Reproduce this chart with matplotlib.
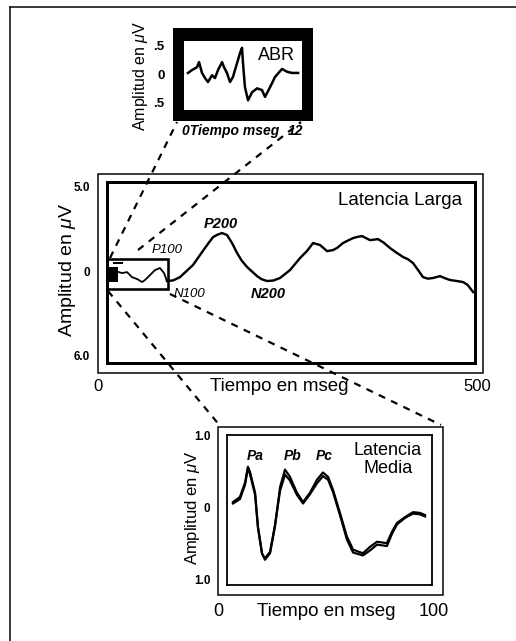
import matplotlib
matplotlib.use("Agg")
import matplotlib.pyplot as plt
from matplotlib.patches import Rectangle

W, H = 516, 641
plt.rcParams['font.family'] = ['Liberation Sans', 'DejaVu Sans']
plt.rcParams['mathtext.fontset'] = 'custom'
plt.rcParams['mathtext.it'] = 'Liberation Sans:italic'
plt.rcParams['mathtext.rm'] = 'Liberation Sans'

# ---- Long-latency response (0-500 ms) ----
llr_t = [81.5, 90.0, 99.2, 108.0, 116.9, 129.1, 137.0, 144.1, 150.0, 156.3, 163.1,
         170.0, 176.7, 183.0, 190.3, 203.9, 210.0, 217.5, 226.0, 235.1, 248.7,
         262.3, 272.0, 280.0, 289.5, 299.0, 307.1, 313.0, 320.7, 328.0, 334.3,
         340.0, 346.5, 357.4, 368.3, 376.0, 384.6, 393.0, 402.3, 409.0, 415.9,
         422.0, 429.4, 436.0, 443.0, 452.5, 459.0, 466.1, 474.0, 483.8, 490.0, 497.4]
llr_v = [-0.59, -0.55, -0.36, 0.00, 0.36, 1.12, 1.60, 2.01, 2.15, 2.25, 2.13,
         1.65, 1.07, 0.62, 0.24, -0.30, -0.48, -0.59, -0.56, -0.41, 0.06,
         0.77, 1.20, 1.66, 1.54, 1.18, 1.24, 1.38, 1.66, 1.82, 1.95,
         2.02, 2.07, 1.83, 1.89, 1.68, 1.36, 1.10, 0.83, 0.70, 0.47,
         0.10, -0.36, -0.45, -0.41, -0.30, -0.42, -0.53, -0.58, -0.65, -0.82, -1.24]
# miniature of the early part shown inside the zoom box
mini_t = [15.0, 20.4, 27.2, 34.0, 40.8, 47.6, 51.6, 58.4, 65.2, 72.0, 77.5, 81.5]
mini_v = [-0.05, -0.12, -0.06, -0.36, -0.47, -0.65, -0.53, -0.24, 0.06, 0.18, -0.12, -0.59]
llr_yticks = [5.0, 0.0, -5.0]
llr_yticklabels = ["5.0", "0", "6.0"]
llr_xticks = [0, 500]
llr_xticklabels = ["0", "500"]

# ---- Auditory brainstem response (0-12 ms) ----
abr_t = [0.41, 0.81, 1.32, 1.53, 1.83, 2.14, 2.44, 2.85, 3.15, 3.46, 3.87, 4.07,
         4.37, 4.68, 4.98, 5.39, 5.70, 5.90, 6.00, 6.20, 6.51, 6.92, 7.43, 7.93,
         8.24, 8.75, 9.26, 9.97, 10.48, 10.99, 11.60]
abr_v = [0.02, 0.07, 0.12, 0.21, 0.02, -0.07, -0.14, -0.02, -0.07, 0.07, 0.21, 0.12,
         0.02, -0.14, -0.05, 0.19, 0.37, 0.46, 0.19, -0.23, -0.46, -0.32, -0.25, -0.28,
         -0.40, -0.23, -0.05, 0.09, 0.04, 0.02, 0.02]
abr_yticks = [0.5, 0.0, -0.5]
abr_yticklabels = [".5", "0", ".5"]

# ---- Middle-latency response (0-100 ms), two superimposed traces ----
mlr_t = [2.9, 6.3, 8.8, 10.2, 11.2, 13.7, 15.1, 17.1, 18.5, 21.0, 23.4, 25.9,
         28.3, 30.7, 34.1, 37.1, 40.5, 43.9, 46.8, 49.3, 51.7, 55.1, 58.5, 61.5,
         66.3, 69.8, 73.2, 78.0, 80.5, 82.9, 86.8, 90.7, 94.1, 96.6]
mlr_a = [0.08, 0.15, 0.35, 0.57, 0.50, 0.21, -0.26, -0.63, -0.72, -0.63, -0.26, 0.29,
         0.53, 0.43, 0.21, 0.08, 0.21, 0.39, 0.49, 0.43, 0.25, -0.07, -0.40, -0.58,
         -0.63, -0.54, -0.47, -0.49, -0.33, -0.21, -0.13, -0.06, -0.07, -0.10]
mlr_b = [0.06, 0.12, 0.32, 0.55, 0.47, 0.18, -0.28, -0.64, -0.70, -0.61, -0.24, 0.24,
         0.46, 0.38, 0.18, 0.06, 0.19, 0.34, 0.44, 0.39, 0.22, -0.10, -0.44, -0.62,
         -0.66, -0.59, -0.51, -0.53, -0.36, -0.23, -0.14, -0.08, -0.09, -0.12]
mlr_yticks = [1.0, 0.0, -1.0]
mlr_yticklabels = ["1.0", "0", "1.0"]
mlr_xticks = [0, 100]
mlr_xticklabels = ["0", "100"]

YLABEL = r"Amplitud en $\mu$V"


def px(v):
    """pixels -> points at 100 dpi"""
    return v * 0.72


def box(x0, y0, x1, y1):
    return [x0 / W, 1 - y1 / H, (x1 - x0) / W, (y1 - y0) / H]


fig = plt.figure(figsize=(W / 100, H / 100), dpi=100)
fig.patch.set_facecolor("white")

# full-figure drawing layer in pixel units (y downwards)
cv = fig.add_axes([0, 0, 1, 1])
cv.set_xlim(0, W)
cv.set_ylim(H, 0)
cv.axis("off")

# page border (top and left edges)
cv.plot([10, W], [7, 7], color="black", lw=px(1.5))
cv.plot([10, 10], [7, H], color="black", lw=px(1.5))

# thin outer frames
cv.add_patch(Rectangle((98, 174), 385, 199, fill=False, ec="black", lw=px(1.5)))
cv.add_patch(Rectangle((218, 427), 225, 168, fill=False, ec="black", lw=px(1.5)))
# heavy ABR frame
cv.add_patch(Rectangle((173, 28), 140, 93, fc="black", ec="black", lw=0))

# dashed zoom guides
dash = dict(color="black", lw=px(2.2), linestyle=(0, (3.2, 3.0)), solid_capstyle="butt")
cv.plot([110, 177], [258, 122], **dash)
cv.plot([138, 301], [250, 122], **dash)
cv.plot([108, 221], [291, 427], **dash)
cv.plot([170, 441], [294, 425], **dash)

# ---------- long latency panel ----------
ax = fig.add_axes(box(107, 182, 475, 363))
ax.set_facecolor("none")
ax.set_xlim(0, 500)
ax.set_ylim(-5.44, 5.27)
for s in ax.spines.values():
    s.set_linewidth(px(3))
ax.plot(llr_t, llr_v, color="black", lw=px(2.4), solid_joinstyle="round")
ax.add_patch(Rectangle((0, -1.07), 83, 1.78, fill=False, ec="black", lw=px(2.6)))
ax.add_patch(Rectangle((0, -0.65), 15, 0.89, fc="black", ec="none"))
ax.plot(mini_t, mini_v, color="black", lw=px(1.8))
ax.plot([10, 20], [0.45, 0.45], color="black", lw=px(2))
ax.set_yticks(llr_yticks)
ax.set_yticklabels(llr_yticklabels, fontweight="bold", fontsize=8.5)
ax.set_xticks([])
ax.tick_params(axis="y", length=0, pad=12)
for v, lab, dx in zip(llr_xticks, llr_xticklabels, [-9, 2]):
    ax.annotate(lab, xy=(v, 0), xycoords=("data", "axes fraction"),
                xytext=(dx, -28), textcoords="offset pixels",
                ha="center", va="baseline", fontsize=12)

cv.text(67, 270, YLABEL, rotation=90, ha="center", va="center", fontsize=14)
cv.text(279, 391, "Tiempo en mseg", ha="center", va="baseline", fontsize=13.5)
cv.text(400, 205, "Latencia Larga", ha="center", va="baseline", fontsize=13.5)
cv.text(221, 228, "P200", ha="center", va="baseline", fontsize=10.5,
        fontweight="bold", fontstyle="italic")
cv.text(268, 298, "N200", ha="center", va="baseline", fontsize=10.5,
        fontweight="bold", fontstyle="italic")
cv.text(167, 253, "P100", ha="center", va="baseline", fontsize=9.5, fontstyle="italic")
cv.text(189, 297, "N100", ha="center", va="baseline", fontsize=9.5, fontstyle="italic")

# ---------- ABR panel ----------
ab = fig.add_axes(box(184, 41, 302, 110))
ab.set_facecolor("white")
ab.set_xlim(0, 12)
ab.set_ylim(-0.63, 0.58)
for s in ab.spines.values():
    s.set_visible(False)
ab.plot(abr_t, abr_v, color="black", lw=px(2.5), solid_joinstyle="round")
ab.set_yticks(abr_yticks)
ab.set_yticklabels(abr_yticklabels, fontweight="bold", fontsize=9.5)
ab.set_xticks([])
ab.tick_params(axis="y", length=0, pad=14)
ab.text(0.78, 0.72, "ABR", transform=ab.transAxes, ha="center", va="baseline", fontsize=13)

cv.text(140, 76, YLABEL, rotation=90, ha="center", va="center", fontsize=11.5)
cv.text(182, 135, "0Tiempo mseg", ha="left", va="baseline", fontsize=10,
        fontweight="bold", fontstyle="italic")
cv.text(296, 135, "12", ha="center", va="baseline", fontsize=10,
        fontweight="bold", fontstyle="italic")

# ---------- middle latency panel ----------
am = fig.add_axes(box(227, 435, 432, 585))
am.set_facecolor("none")
am.set_xlim(0, 100)
am.set_ylim(-1.07, 1.01)
for s in am.spines.values():
    s.set_linewidth(px(1.8))
am.plot(mlr_t, mlr_a, color="black", lw=px(2.2), solid_joinstyle="round")
am.plot(mlr_t, mlr_b, color="black", lw=px(2.2), solid_joinstyle="round")
am.set_yticks(mlr_yticks)
am.set_yticklabels(mlr_yticklabels, fontweight="bold", fontsize=8.5)
am.set_xticks([])
am.tick_params(axis="y", length=0, pad=12)
for v, lab, dx in zip(mlr_xticks, mlr_xticklabels, [-9, 2]):
    am.annotate(lab, xy=(v, 0), xycoords=("data", "axes fraction"),
                xytext=(dx, -31), textcoords="offset pixels",
                ha="center", va="baseline", fontsize=13)

cv.text(192, 508, YLABEL, rotation=90, ha="center", va="center", fontsize=12)
cv.text(326, 616, "Tiempo en mseg", ha="center", va="baseline", fontsize=13.5)
cv.text(388, 455, "Latencia", ha="center", va="baseline", fontsize=13)
cv.text(388, 473, "Media", ha="center", va="baseline", fontsize=13)
for lab, xc in zip(["Pa", "Pb", "Pc"], [255, 293, 324]):
    cv.text(xc, 460, lab, ha="center", va="baseline", fontsize=10,
            fontweight="bold", fontstyle="italic")

fig.savefig("out.png", dpi=100, facecolor="white")
